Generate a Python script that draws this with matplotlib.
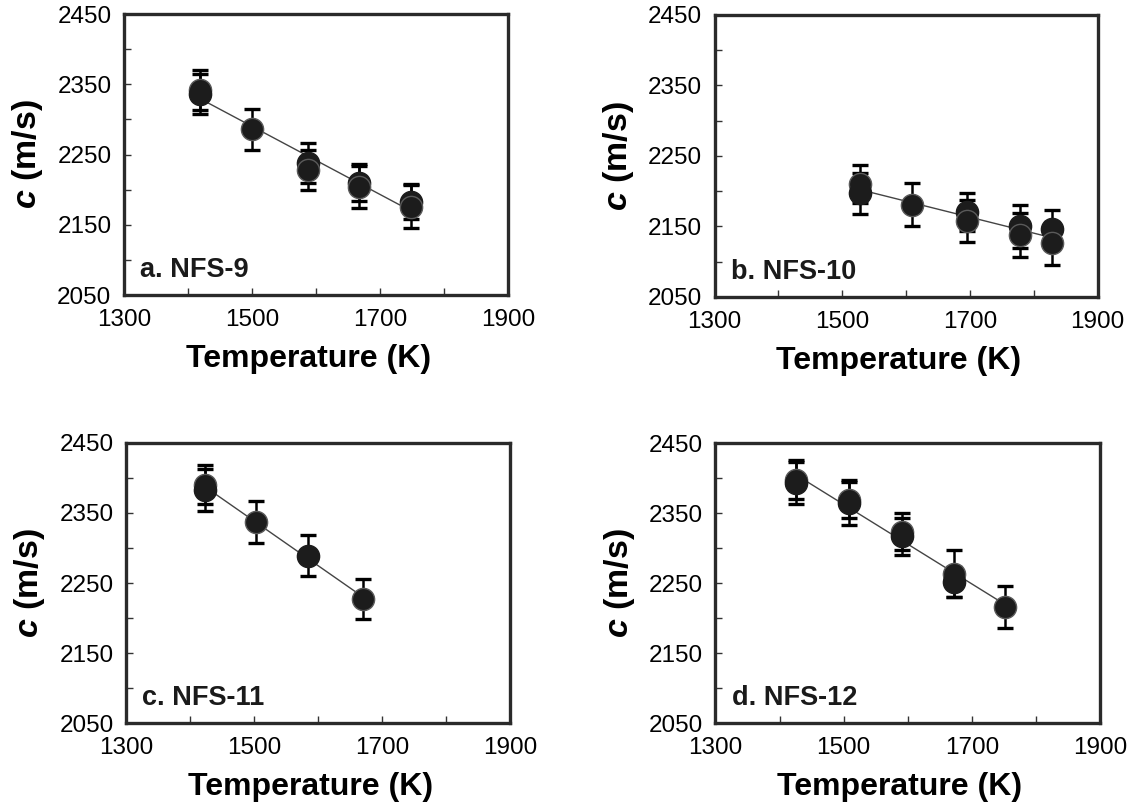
import numpy as np
import matplotlib
matplotlib.use("Agg")
import matplotlib.pyplot as plt

plt.rcParams['font.family'] = ['Liberation Sans', 'DejaVu Sans']
plt.rcParams['mathtext.fontset'] = 'custom'
plt.rcParams['mathtext.rm'] = 'Liberation Sans:bold'
plt.rcParams['mathtext.bf'] = 'Liberation Sans:bold'
plt.rcParams['mathtext.it'] = 'Liberation Sans:italic:bold'
plt.rcParams['mathtext.bfit'] = 'Liberation Sans:italic:bold'

# panel data: temperature (K), sound speed (m/s), error (m/s)
labels = ["a. NFS-9", "b. NFS-10", "c. NFS-11", "d. NFS-12"]

temp_a = [1418, 1418, 1500, 1588, 1588, 1667, 1667, 1748, 1748]
c_a = [2342, 2336, 2286, 2238, 2228, 2210, 2204, 2183, 2176]
err_a = [28, 29, 29, 28, 29, 26, 30, 25, 31]

temp_b = [1528, 1528, 1610, 1695, 1695, 1778, 1778, 1828, 1828]
c_b = [2210, 2197, 2181, 2170, 2158, 2150, 2138, 2146, 2126]
err_b = [27, 29, 30, 27, 30, 30, 31, 28, 31]

temp_c = [1423, 1423, 1503, 1585, 1670]
c_c = [2390, 2383, 2337, 2289, 2227]
err_c = [28, 30, 30, 29, 29]

temp_d = [1425, 1425, 1509, 1509, 1591, 1591, 1672, 1672, 1752]
c_d = [2398, 2393, 2369, 2365, 2324, 2317, 2264, 2252, 2216]
err_d = [28, 30, 26, 32, 26, 26, 33, 21, 30]

panels = [(temp_a, c_a, err_a), (temp_b, c_b, err_b),
          (temp_c, c_c, err_c), (temp_d, c_d, err_d)]

# axes rectangles in figure fractions (left, bottom, width, height)
rects = [(0.1082, 0.6335, 0.3351, 0.3491),
         (0.6235, 0.6311, 0.3342, 0.3503),
         (0.1100, 0.1015, 0.3351, 0.3485),
         (0.6243, 0.1015, 0.3355, 0.3478)]

fig = plt.figure(figsize=(11.46, 8.05), dpi=100)

for (T, c, e), rect, lab in zip(panels, rects, labels):
    ax = fig.add_axes(rect)
    T = np.array(T, dtype=float)
    c = np.array(c, dtype=float)

    # linear fit through the measurements
    k, b = np.polyfit(T, c, 1)
    tx = np.array([T.min(), T.max()])
    ax.plot(tx, k * tx + b, color='#444444', lw=1.0, zorder=1)

    ax.errorbar(T, c, yerr=e, fmt='none', ecolor='black', elinewidth=1.8,
                capsize=6, capthick=2.4, zorder=2)
    for i in range(len(T)):
        ax.plot(T[i], c[i], 'o', ms=16, mfc='#1c1c1c',
                mec='#5a5a5a' if i % 2 == 0 else '#1c1c1c', mew=1.0, zorder=3)

    ax.set_xlim(1300, 1900)
    ax.set_ylim(2050, 2450)
    ax.set_xticks([1300, 1500, 1700, 1900])
    ax.set_xticks(np.arange(1300, 1901, 100), minor=True)
    ax.set_yticks([2050, 2150, 2250, 2350, 2450])
    ax.set_yticks(np.arange(2050, 2451, 50), minor=True)
    ax.tick_params(which='both', direction='in', length=5, width=1.0,
                   color='#333333', labelsize=17.5, pad=10)
    ax.tick_params(axis='y', which='both', pad=9)
    for sp in ax.spines.values():
        sp.set_linewidth(2.4)
        sp.set_color('#2a2a2a')

    ax.set_xlabel("Temperature (K)", fontsize=23, fontweight='bold')
    ax.set_ylabel(r"$\mathbfit{c}$ (m/s)", fontsize=24.5, fontweight='bold')
    ax.xaxis.set_label_coords(0.48, -0.175)
    ax.yaxis.set_label_coords(-0.205, 0.5)
    ax.text(0.042, 0.064, lab, transform=ax.transAxes, fontsize=19.5,
            fontweight='bold', color='#1a1a1a', ha='left', va='baseline')

fig.savefig("out.png", dpi=100)
